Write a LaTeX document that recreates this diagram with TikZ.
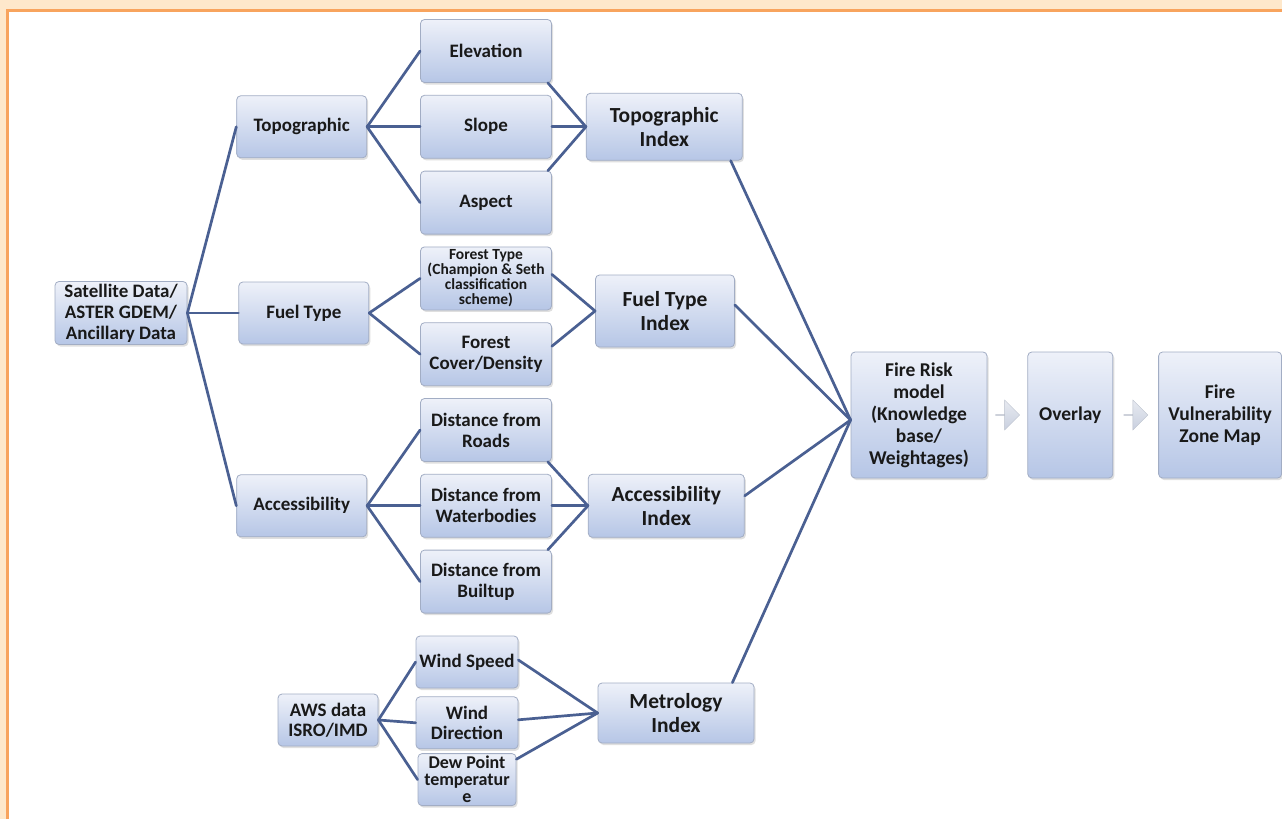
\documentclass[tikz,border=0pt]{standalone}
\usepackage{fontspec}
\setmainfont{Carlito}
\usepackage{tikz}
\usetikzlibrary{positioning,shadows,shapes.arrows,calc}

\definecolor{boxtop}{HTML}{EEF1F9}
\definecolor{boxbot}{HTML}{B6C6E6}
\definecolor{boxline}{HTML}{A2ADC4}
\definecolor{linkblue}{HTML}{4A6092}
\definecolor{pageback}{HTML}{FEE8CB}
\definecolor{frameline}{HTML}{F8A45E}
\definecolor{arrowfill}{HTML}{C9D0DF}

\begin{document}
\begin{tikzpicture}[x=1pt,y=-1pt,node distance=12pt,
      box/.style={rectangle,rounded corners=4pt,draw=boxline,line width=0.8pt,
        top color=boxtop,bottom color=boxbot,align=center,inner sep=2pt,
        text=black!90,font=\bfseries\fontsize{19}{21}\selectfont,
        drop shadow={opacity=0.25,shadow xshift=1.5pt,shadow yshift=-2pt}},
      main node/.style={box,minimum width=130pt,minimum height=62pt},
      leaf node/.style={box,minimum width=131pt,minimum height=63pt},
      small node/.style={box,minimum width=102pt,minimum height=52pt,inner ysep=0pt,
        font=\bfseries\fontsize{19}{20}\selectfont},
      index node/.style={box,minimum width=156pt,minimum height=63pt,
        font=\bfseries\fontsize{21.5}{24}\selectfont},
      tall node/.style={box,minimum height=126pt,font=\bfseries\fontsize{19.5}{22}\selectfont},
      link/.style={draw=linkblue,line width=2.7pt,line cap=round},
      flow arrow/.style={single arrow,single arrow head extend=7pt,minimum width=30pt,
        minimum height=24pt,inner sep=0pt,draw=arrowfill!80!gray,line width=0.4pt,
        top color=arrowfill!45,bottom color=arrowfill}]

      % page
      \useasboundingbox (0,0) rectangle (1282,819);
      \fill[pageback] (0,0) rectangle (1282,819);
      \fill[white] (7,10) rectangle (1282,819);
      \draw[frameline,line width=3pt] (7,819) -- (7,10) -- (1282,10);

      \node[box,minimum width=132pt,minimum height=63pt] (sat) at (121,313) {Satellite Data/\\ASTER GDEM/\\Ancillary Data};

      \node[leaf node] (elev) at (486,51) {Elevation};
      \node[leaf node] (slope) [below=of elev] {Slope};
      \node[leaf node] (aspect) [below=of slope] {Aspect};
      \node[leaf node,inner ysep=0pt,font=\bfseries\fontsize{15.5}{15}\selectfont] (ftype) [below=of aspect] {Forest Type\\(Champion \& Seth\\classification\\scheme)};
      \node[leaf node] (fcover) [below=of ftype] {Forest\\Cover/Density};
      \node[leaf node] (road) [below=of fcover] {Distance from\\Roads};
      \node[leaf node] (water) [below=of road] {Distance from\\Waterbodies};
      \node[leaf node] (built) [below=of water] {Distance from\\Builtup};

      \node[main node] (topo) [left=53pt of slope] {Topographic};
      \node[main node] (fuel) [right=51pt of sat] {Fuel Type};
      \node[main node] (access) [left=53pt of water] {Accessibility};

      \node[index node,minimum height=67pt] (tidx) [right=34pt of slope] {Topographic\\Index};
      \node[index node,minimum width=139pt,minimum height=72pt] (fidx) at (665,311) {Fuel Type\\Index};
      \node[index node] (aidx) [right=36pt of water] {Accessibility\\Index};
      \node[index node,minimum height=60pt] (midx) at (676,713) {Metrology\\Index};

      \node[small node,minimum width=100pt] (aws) at (328,720) {AWS data\\ISRO/IMD};
      \node[small node] (wspeed) at (467,662) {Wind Speed};
      \node[small node] (wdir) [below=8pt of wspeed] {Wind\\Direction};
      \node[small node,minimum width=98pt,font=\bfseries\fontsize{18}{17}\selectfont] (dew) [below=4pt of wdir] {Dew Point\\temperatur\\e};

      \node[tall node,minimum width=136pt] (fire) at (919,415) {Fire Risk\\model\\(Knowledge\\base/\\Weightages)};
      \node[tall node,minimum width=85pt] (ovl) [right=40pt of fire] {Overlay};
      \node[tall node,minimum width=123pt] (fvzm) [right=45pt of ovl] {Fire\\Vulnerability\\Zone Map};

      \node[flow arrow] (arr1) at ($(fire.east)!0.5!(ovl.west)$) {};
      \node[flow arrow] (arr2) at ($(ovl.east)!0.5!(fvzm.west)$) {};

      \path[link]
        (sat.east) edge (topo.west)
        (sat.east) edge (fuel.west)
        (sat.east) edge (access.west)
        (topo.east) edge (elev.west)
        (topo.east) edge (slope.west)
        (topo.east) edge (aspect.west)
        (fuel.east) edge (ftype.west)
        (fuel.east) edge (fcover.west)
        (access.east) edge (road.west)
        (access.east) edge (water.west)
        (access.east) edge (built.west)
        ([xshift=-4pt]elev.south east) edge (tidx.west)
        (slope.east) edge (tidx.west)
        ([xshift=-4pt]aspect.north east) edge (tidx.west)
        ([yshift=4pt]ftype.east) edge (fidx.west)
        ([yshift=8pt]fcover.east) edge (fidx.west)
        ([xshift=-4pt]road.south east) edge (aidx.west)
        (water.east) edge (aidx.west)
        ([xshift=-4pt]built.north east) edge (aidx.west)
        ([xshift=-12pt]tidx.south east) edge ([yshift=-5pt]fire.west)
        ([yshift=6pt]fidx.east) edge ([yshift=-5pt]fire.west)
        ([yshift=10pt]aidx.east) edge ([yshift=-5pt]fire.west)
        ([xshift=-22pt]midx.north east) edge ([yshift=-5pt]fire.west)
        (aws.east) edge (wspeed.west)
        (aws.east) edge (wdir.west)
        (aws.east) edge (dew.west)
        ([yshift=2pt]wspeed.east) edge (midx.west)
        ([yshift=3pt]wdir.east) edge (midx.west)
        ([yshift=-6pt]dew.north east) edge (midx.west);
\end{tikzpicture}
\end{document}
